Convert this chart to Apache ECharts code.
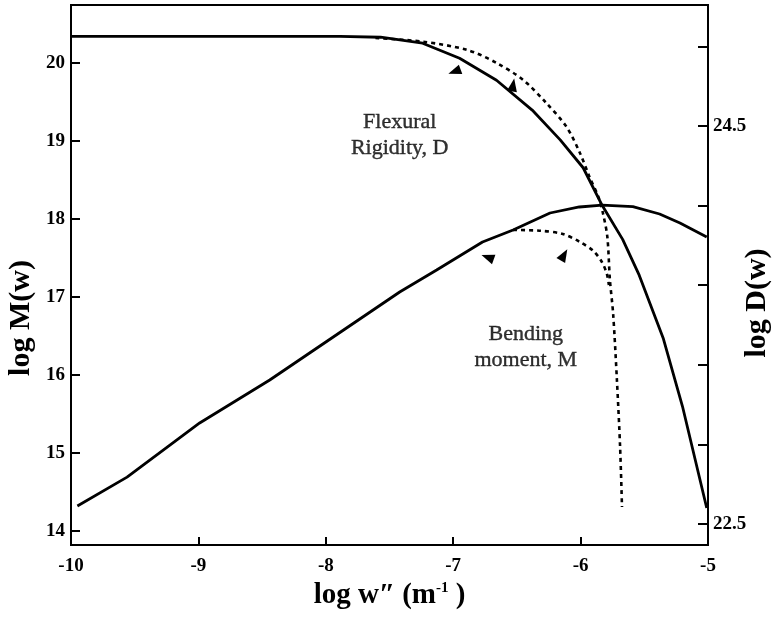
<!DOCTYPE html>
<html><head><meta charset="utf-8">
<script src="https://cdn.jsdelivr.net/npm/echarts@6/dist/echarts.min.js"></script>
<style>html,body{margin:0;padding:0;background:#fff}#c{width:773px;height:634px}</style>
</head><body><div id="c"></div>
<script>
// ---- axis ticks ----
const xTicks = [-10, -9, -8, -7, -6, -5];
const mTicks = [14, 15, 16, 17, 18, 19, 20];
const dTicks = [22.5, 22.9, 23.3, 23.7, 24.1, 24.5, 24.9];
const dLabels = [22.5, 24.5];

// ---- Flexural rigidity D (right axis) ----
const dSolidX = [-10, -7.89, -7.57, -7.24, -6.95, -6.66, -6.38, -6.16, -5.98, -5.83, -5.67, -5.54, -5.35, -5.20, -5.01];
const dSolidY = [24.95, 24.95, 24.946, 24.916, 24.84, 24.73, 24.58, 24.43, 24.29, 24.10, 23.93, 23.75, 23.43, 23.09, 22.58];
const dDashX = [-7.61, -7.24, -6.89, -6.66, -6.45, -6.27, -6.11, -6.005, -5.93, -5.86, -5.825, -5.79, -5.77, -5.745, -5.715, -5.69, -5.675];
const dDashY = [24.942, 24.924, 24.882, 24.817, 24.731, 24.616, 24.495, 24.364, 24.244, 24.143, 24.063, 23.942, 23.726, 23.56, 23.224, 22.887, 22.585];

// ---- Bending moment M (left axis) ----
const mSolidX = [-9.95, -9.56, -8.99, -8.44, -7.42, -7.13, -6.77, -6.53, -6.24, -6.01, -5.83, -5.59, -5.38, -5.22, -5.01];
const mSolidY = [14.32, 14.69, 15.385, 15.936, 17.064, 17.346, 17.705, 17.859, 18.077, 18.154, 18.179, 18.158, 18.064, 17.949, 17.769];
const mDashX = [-6.53, -6.32, -6.14, -6.005, -5.90, -5.833, -5.794, -5.778];
const mDashY = [17.859, 17.85, 17.808, 17.705, 17.59, 17.449, 17.295, 17.154];

// ---- annotations ----
const noteText = ['Flexural\nRigidity, D', 'Bending\nmoment, M'];
const noteX = [-7.42, -6.43];
const noteY = [19.08, 16.36];
const arrowX = [-6.99, -6.53, -6.73, -6.13];
const arrowY = [19.89, 19.72, 17.51, 17.54];
const arrowRot = [110, -10, 70, -30];

const zip = (a, b) => a.map((v, i) => [v, b[i]]);
const FONT = 'Liberation Serif';
const titleFont = 'bold 30px "Liberation Serif"';

const chart = echarts.init(document.getElementById('c'), null, {renderer: 'canvas'});
chart.setOption({
  animation: false,
  backgroundColor: '#fff',
  grid: {left: 71, right: 65, top: 5, bottom: 89, show: true, borderColor: '#000', borderWidth: 2,
    containLabel: false, outerBoundsMode: 'none'},
  graphic: [
    {type: 'text', x: 21, y: 318, rotation: Math.PI / 2,
      style: {text: 'log M(w)', font: titleFont, fill: '#000', align: 'center', verticalAlign: 'middle'}},
    {type: 'text', x: 757, y: 303, rotation: Math.PI / 2,
      style: {text: 'log D(w)', font: titleFont, fill: '#000', align: 'center', verticalAlign: 'middle'}}
  ],
  xAxis: {
    type: 'value', min: -10, max: -5, interval: 1,
    axisLine: {lineStyle: {color: '#000', width: 2}},
    axisTick: {inside: true, length: 8, lineStyle: {color: '#000', width: 2}},
    axisLabel: {color: '#000', fontFamily: FONT, fontWeight: 'bold', fontSize: 19, margin: 12},
    splitLine: {show: false},
    name: 'log w\u2033 (m{sup|-1} )',
    nameLocation: 'middle', nameGap: 32,
    nameTextStyle: {color: '#000', fontFamily: FONT, fontWeight: 'bold', fontSize: 29,
      rich: {sup: {fontFamily: FONT, fontWeight: 'bold', fontSize: 15, verticalAlign: 'top', color: '#000'}}}
  },
  yAxis: [{
    type: 'value', min: 13.82, max: 20.744, position: 'left',
    axisLine: {lineStyle: {color: '#000', width: 2}},
    axisTick: {inside: true, length: 9, customValues: mTicks, lineStyle: {color: '#000', width: 2}},
    axisLabel: {customValues: mTicks, color: '#000', fontFamily: FONT, fontWeight: 'bold', fontSize: 19, margin: 6},
    splitLine: {show: false}
  }, {
    type: 'value', min: 22.394, max: 25.108, position: 'right',
    axisLine: {lineStyle: {color: '#000', width: 2}},
    axisTick: {inside: true, length: 10, customValues: dTicks, lineStyle: {color: '#000', width: 2}},
    axisLabel: {customValues: dLabels, color: '#000', fontFamily: FONT, fontWeight: 'bold', fontSize: 19, margin: 5,
      formatter: v => v.toFixed(1)},
    splitLine: {show: false}
  }],
  series: [
    {type: 'line', yAxisIndex: 1, data: zip(dSolidX, dSolidY), showSymbol: false,
      lineStyle: {color: '#000', width: 2.8}},
    {type: 'line', yAxisIndex: 1, data: zip(dDashX, dDashY), showSymbol: false, smooth: 0.3,
      lineStyle: {color: '#000', width: 2.6, type: [4, 4]}},
    {type: 'line', yAxisIndex: 0, data: zip(mSolidX, mSolidY), showSymbol: false,
      lineStyle: {color: '#000', width: 2.8}},
    {type: 'line', yAxisIndex: 0, data: zip(mDashX, mDashY), showSymbol: false, smooth: 0.3,
      lineStyle: {color: '#000', width: 2.6, type: [4, 4]}},
    {type: 'scatter', yAxisIndex: 0, symbol: 'triangle', symbolSize: [10, 13],
      data: arrowX.map((x, i) => ({value: [x, arrowY[i]], symbolRotate: arrowRot[i]})),
      itemStyle: {color: '#000', opacity: 1}},
    {type: 'scatter', yAxisIndex: 0, symbolSize: 0,
      data: noteX.map((x, i) => ({value: [x, noteY[i]], name: noteText[i]})),
      label: {show: true, position: 'inside', formatter: p => p.name, color: '#000',
        textBorderColor: '#000', textBorderWidth: 0.4,
        fontFamily: FONT, fontSize: 22, lineHeight: 26, align: 'center'}}
  ]
});
</script>
</body></html>
